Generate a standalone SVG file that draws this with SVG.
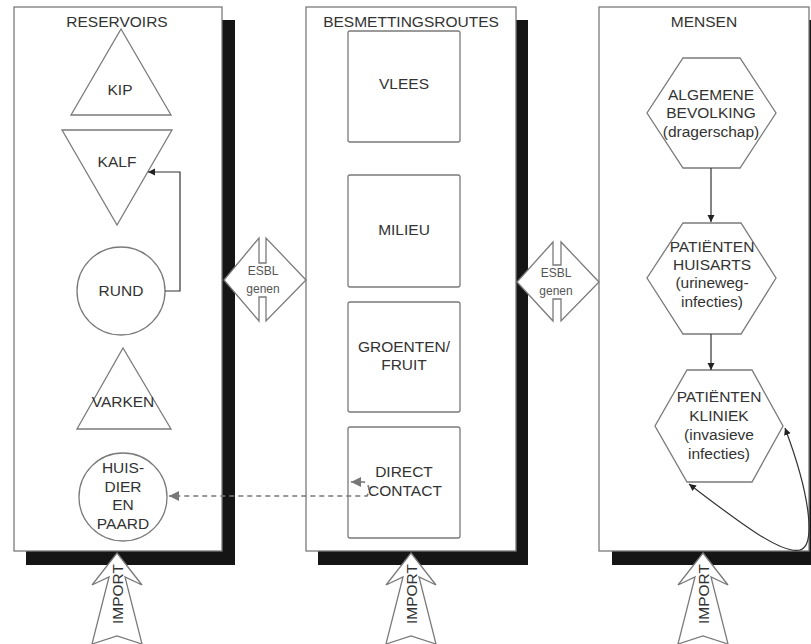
<svg xmlns="http://www.w3.org/2000/svg" width="811" height="644" viewBox="0 0 811 644">
<style>
.bg{fill:#fff}
.shadow{fill:#151515}
.panel{fill:#fff;stroke:#7a7a7a;stroke-width:1.3}
.shape{fill:#fff;stroke:#7a7a7a;stroke-width:1.3}
.t{font-family:"Liberation Sans",Arial,sans-serif;font-size:15.5px;fill:#333;text-anchor:middle}
.s{font-family:"Liberation Sans",Arial,sans-serif;font-size:12px;fill:#555;text-anchor:middle}
.conn{fill:none;stroke:#333;stroke-width:1.2}
.dash{fill:none;stroke:#777;stroke-width:1.6;stroke-dasharray:5 4}
</style>
<defs>
<marker id="ah" markerWidth="8" markerHeight="8" refX="7" refY="3.5" orient="auto-start-reverse" markerUnits="userSpaceOnUse">
<path d="M0,0 L7,3.5 L0,7 z" fill="#222"/>
</marker>
<marker id="ahg" markerWidth="11" markerHeight="11" refX="10" refY="5" orient="auto-start-reverse" markerUnits="userSpaceOnUse">
<path d="M0,0 L10,5 L0,10 z" fill="#777"/>
</marker>
<polygon id="imp" points="0,0 25,32 8,24 25,91 0,83 -25,91 -8,24 -25,32" fill="#fff" stroke="#7a7a7a" stroke-width="1.3"/>
</defs>
<rect class="bg" x="0" y="0" width="811" height="644"/>

<g id="panels">
<rect class="shadow" x="26" y="20" width="209" height="545"/>
<rect class="panel" x="14" y="7" width="208" height="544"/>
<rect class="shadow" x="318" y="20" width="210" height="545"/>
<rect class="panel" x="306" y="7" width="210" height="544"/>
<rect class="shadow" x="612" y="20" width="210" height="545"/>
<rect class="panel" x="599" y="7" width="210" height="544"/>
<text class="t" x="117" y="27">RESERVOIRS</text>
<text class="t" x="411" y="27">BESMETTINGSROUTES</text>
<text class="t" x="704" y="27">MENSEN</text>
</g>

<g id="kip">
<polygon class="shape" points="121,29 171,115 71,115"/>
<text class="t" x="120" y="95">KIP</text>
</g>
<g id="kalf">
<polygon class="shape" points="62,130 172,130 117,225"/>
<text class="t" x="117" y="167">KALF</text>
</g>
<g id="rund">
<circle class="shape" cx="121" cy="291" r="44"/>
<text class="t" x="121" y="296">RUND</text>
</g>
<g id="varken">
<polygon class="shape" points="123,348 171,429 77,429"/>
<text class="t" x="123" y="407">VARKEN</text>
</g>
<g id="huisdier">
<circle class="shape" cx="123" cy="497" r="44"/>
<text class="t" x="123" y="473">HUIS-</text>
<text class="t" x="123" y="492">DIER</text>
<text class="t" x="123" y="510">EN</text>
<text class="t" x="123" y="529">PAARD</text>
</g>

<g id="vlees">
<rect class="shape" x="348" y="31" width="112" height="111" rx="2"/>
<text class="t" x="404" y="89">VLEES</text>
</g>
<g id="milieu">
<rect class="shape" x="348" y="175" width="112" height="112" rx="2"/>
<text class="t" x="404" y="235">MILIEU</text>
</g>
<g id="groenten">
<rect class="shape" x="348" y="302" width="112" height="110" rx="2"/>
<text class="t" x="404" y="352">GROENTEN/</text>
<text class="t" x="404" y="370">FRUIT</text>
</g>
<g id="direct">
<rect class="shape" x="348" y="427" width="112" height="111" rx="2"/>
<text class="t" x="404" y="477">DIRECT</text>
<text class="t" x="405" y="496">CONTACT</text>
</g>

<g id="algemene">
<polygon class="shape" points="683,58 740,58 776,113 740,168 683,168 647,113"/>
<text class="t" x="711" y="100">ALGEMENE</text>
<text class="t" x="711" y="118">BEVOLKING</text>
<text class="t" x="711" y="137">(dragerschap)</text>
</g>
<g id="huisarts">
<polygon class="shape" points="683,223 741,223 776,278 741,334 683,334 647,278"/>
<text class="t" x="712" y="252">PATIËNTEN</text>
<text class="t" x="712" y="270">HUISARTS</text>
<text class="t" x="712" y="288">(urineweg-</text>
<text class="t" x="712" y="307">infecties)</text>
</g>
<g id="kliniek">
<polygon class="shape" points="687,370 752,370 783,426 752,482 687,482 655,426"/>
<text class="t" x="719" y="402">PATIËNTEN</text>
<text class="t" x="719" y="421">KLINIEK</text>
<text class="t" x="719" y="440">(invasieve</text>
<text class="t" x="719" y="459">infecties)</text>
</g>

<g id="esbl-left">
<polygon class="shape" points="224,280 259,238 259,263 266,263 266,238 306,280 266,321 266,297 259,297 259,321"/>
<text class="s" x="263" y="275">ESBL</text>
<text class="s" x="263" y="293">genen</text>
</g>
<g id="esbl-right">
<polygon class="shape" points="517,282 553,242 553,265 561,265 561,242 599,282 561,321 561,299 553,299 553,321"/>
<text class="s" x="556" y="277">ESBL</text>
<text class="s" x="556" y="295">genen</text>
</g>

<g id="import-left">
<use href="#imp" x="117" y="553"/>
<text class="t" font-size="15" transform="translate(117,594) rotate(-90)" dy="0.36em">IMPORT</text>
</g>
<g id="import-mid">
<use href="#imp" x="411" y="553"/>
<text class="t" font-size="15" transform="translate(411,594) rotate(-90)" dy="0.36em">IMPORT</text>
</g>
<g id="import-right">
<use href="#imp" x="703" y="553"/>
<text class="t" font-size="15" transform="translate(703,594) rotate(-90)" dy="0.36em">IMPORT</text>
</g>

<g id="connectors">
<path class="conn" d="M165,291 H180 V172 H148" marker-end="url(#ah)"/>
<path class="conn" d="M711,168 V222" marker-end="url(#ah)"/>
<path class="conn" d="M711,334 V370" marker-end="url(#ah)"/>
<path class="conn" d="M689,484 C730,515 780,555 800,550 C815,546 812,500 785,428" marker-start="url(#ah)" marker-end="url(#ah)"/>
<path class="dash" d="M351,482 L364,482 Q372,486 367,496 L169,496" marker-start="url(#ahg)" marker-end="url(#ahg)"/>
</g>
</svg>
